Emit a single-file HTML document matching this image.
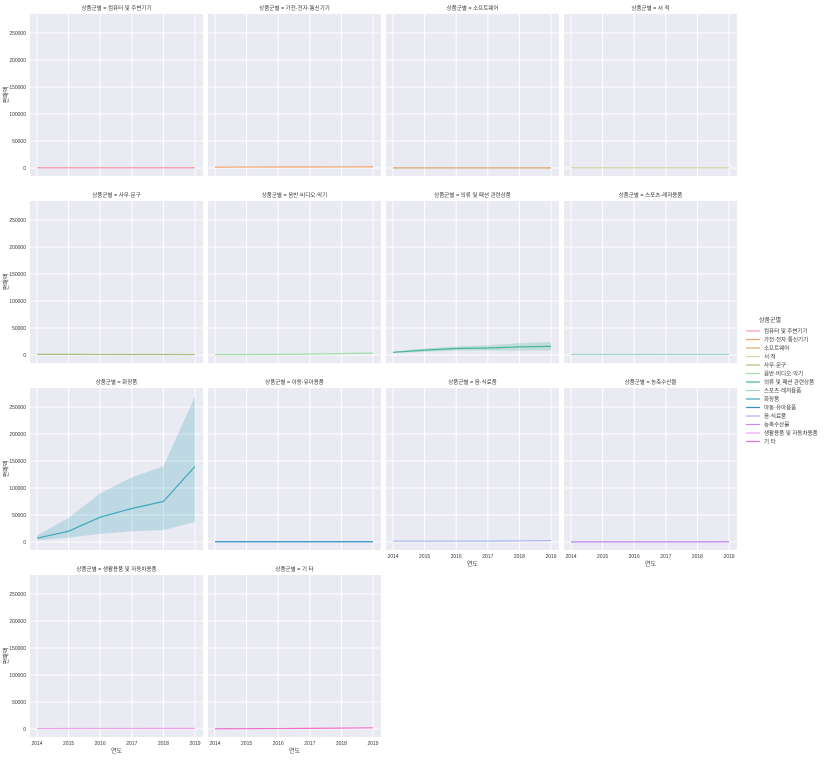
<!DOCTYPE html>
<html><head><meta charset="utf-8"><style>
body{margin:0;background:#fff;font-family:"Liberation Sans","Noto Sans CJK KR",sans-serif}
svg text{font-family:"Liberation Sans","Noto Sans CJK KR",sans-serif;fill:#333}
</style></head><body>
<svg id="c" width="837" height="757"></svg>
<script>
const years=[2014,2015,2016,2017,2018,2019];
const categories=["컴퓨터 및 주변기기","가전·전자·통신기기","소프트웨어","서 적","사무·문구","음반·비디오·악기","의류 및 패션 관련상품","스포츠·레저용품","화장품","아동·유아용품","음·식료품","농축수산물","생활용품 및 자동차용품","기 타"];
const colors=["#f59aaa","#f5a068","#d8aa68","#d8d6a8","#a8c47c","#a0dca8","#44b891","#9ad6d0","#3aa8b8","#3590c4","#a4b4f0","#c08af0","#f0a0ec","#f070c8"];
const meanValues=[
[500,500,500,500,500,500],[1500,1700,1800,1900,2000,2100],[300,300,300,300,300,300],[500,500,500,500,500,500],
[1200,1100,1000,900,900,800],[800,900,1200,1600,2500,3500],[5000,9000,12000,13000,15000,16000],[900,900,900,1000,1000,1000],
[7000,20000,46000,62000,75000,140000],[500,500,500,500,500,500],[1500,1500,1500,1600,2000,2500],[300,300,300,300,300,400],
[800,900,1000,1000,1100,1200],[500,600,800,1200,1600,2200]];
const upperValues=[
[700,700,700,700,700,700],[2200,2400,2500,2600,2700,2800],[500,500,500,500,500,500],[700,700,700,700,700,700],
[1600,1500,1400,1300,1200,1100],[1100,1200,1600,2200,3400,4500],[6500,12000,16000,18000,22000,24000],[1200,1200,1200,1300,1300,1300],
[12000,45000,90000,120000,140000,270000],[700,700,700,700,700,700],[2000,2000,2000,2200,2800,3400],[500,500,500,500,500,600],
[1000,1100,1300,1300,1400,1500],[700,800,1100,1600,2100,2800]];
const lowerValues=meanValues.map((r,i)=>r.map((v,j)=>Math.max(0,2*v-upperValues[i][j])));
lowerValues[8]=[3000,8000,15000,20000,22000,37000];
const yTicks=[0,50000,100000,150000,200000,250000];
const NS="http://www.w3.org/2000/svg";
const svg=document.getElementById('c');
function mk(t,a,p){const e=document.createElementNS(NS,t);for(const k in a)e.setAttribute(k,a[k]);(p||svg).appendChild(e);return e;}
const PW=173,PH=162,X0=30,Y0=14,SX=178,SY=187;
categories.forEach((cat,i)=>{
 const col=i%4,row=Math.floor(i/4);
 const px=X0+col*SX,py=Y0+row*SY;
 const g=mk('g',{});
 
 
 const xs=y=>px+7+(y-2014)/5*(PW-15);
 const ys=v=>py+154-v/250000*135;
 mk('rect',{x:px,y:py,width:PW,height:PH,fill:'#eaeaf2'},g);
 yTicks.forEach(t=>{mk('line',{x1:px,x2:px+PW,y1:ys(t),y2:ys(t),stroke:'#fff','stroke-width':1},g);
  if(col==0){const tx=mk('text',{x:px-4,y:ys(t)+2,'font-size':5,'text-anchor':'end'},g);tx.textContent=t;}});
 years.forEach(y=>{mk('line',{x1:xs(y),x2:xs(y),y1:py,y2:py+PH,stroke:'#fff','stroke-width':1},g);
  if(row==3||i>=10&&i<12){const tx=mk('text',{x:xs(y),y:py+PH+8,'font-size':5,'text-anchor':'middle'},g);tx.textContent=y;}});
 const up=upperValues[i].map((v,j)=>xs(years[j])+','+ys(v));
 const lo=lowerValues[i].map((v,j)=>xs(years[j])+','+ys(v)).reverse();
 const band=mk('polygon',{points:up.concat(lo).join(' '),fill:colors[i],'fill-opacity':0.25},g);
 
 
 const ln=mk('polyline',{points:meanValues[i].map((v,j)=>xs(years[j])+','+ys(v)).join(' '),fill:'none',stroke:colors[i],'stroke-width':1.2},g);
 
 
 const tt=mk('text',{x:px+PW/2,y:py-4,'font-size':5.5,'text-anchor':'middle'},g);tt.textContent='상품군별 = '+cat;
 if(col==0){const yl=mk('text',{x:px-22,y:py+PH/2,'font-size':6,'text-anchor':'middle',transform:`rotate(-90 ${px-22} ${py+PH/2})`},g);yl.textContent='판매액';}
 if(row==3||i>=10&&i<12){const xl=mk('text',{x:px+PW/2,y:py+PH+16,'font-size':6,'text-anchor':'middle'},g);xl.textContent='연도';}
});
const lg=mk('g',{});


const lt=mk('text',{x:770,y:322,'font-size':6,'text-anchor':'middle'},lg);lt.textContent='상품군별';
categories.forEach((c,i)=>{const y=331+i*8.5;
 mk('line',{x1:746,x2:760,y1:y,y2:y,stroke:colors[i],'stroke-width':1.2},lg);
 const t=mk('text',{x:764,y:y+2,'font-size':5.5},lg);t.textContent=c;});
</script>
</body></html>
